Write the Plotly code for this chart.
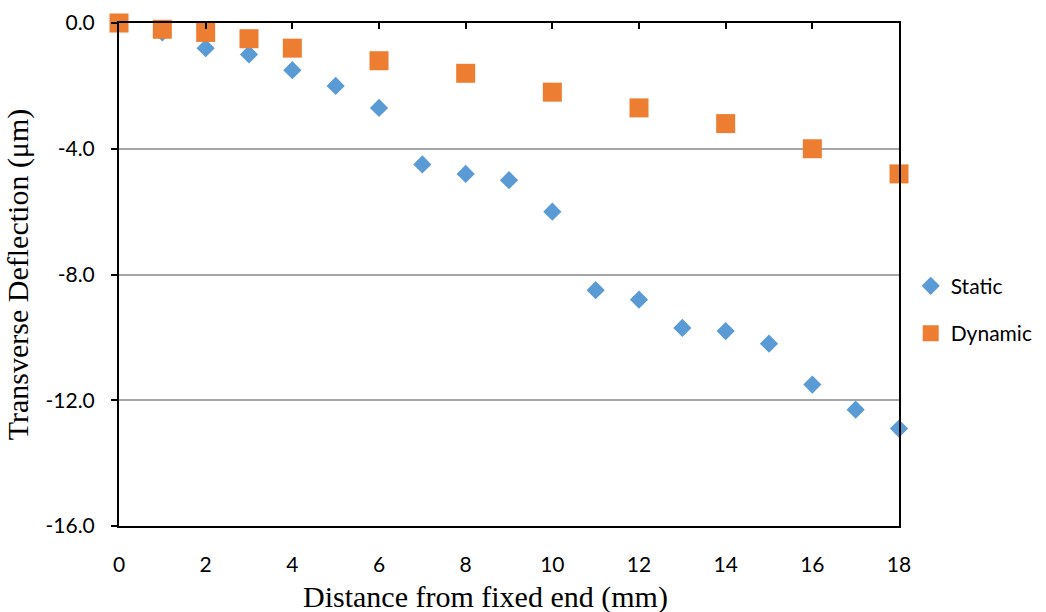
import plotly.graph_objects as go

static_x = [0, 1, 2, 3, 4, 5, 6, 7, 8, 9, 10, 11, 12, 13, 14, 15, 16, 17, 18]
static_y = [0.0, -0.3, -0.8, -1.0, -1.5, -2.0, -2.7, -4.5, -4.8, -5.0, -6.0,
            -8.5, -8.8, -9.7, -9.8, -10.2, -11.5, -12.3, -12.9]
dynamic_x = [0, 1, 2, 3, 4, 6, 8, 10, 12, 14, 16, 18]
dynamic_y = [0.0, -0.2, -0.3, -0.5, -0.8, -1.2, -1.6, -2.2, -2.7, -3.2, -4.0, -4.8]

x_ticks = [0, 2, 4, 6, 8, 10, 12, 14, 16, 18]
y_ticks = [0, -4, -8, -12, -16]
y_ticklabels = ["0.0", "-4.0", "-8.0", "-12.0", "-16.0"]

fig = go.Figure()
fig.add_trace(go.Scatter(
    x=static_x, y=static_y, mode="markers", name="Static",
    legendgroup="a",
    marker=dict(symbol="diamond", size=14, color="#5B9BD5", line=dict(width=0)),
    cliponaxis=False))
fig.add_trace(go.Scatter(
    x=dynamic_x, y=dynamic_y, mode="markers", name="Dynamic",
    legendgroup="b",
    marker=dict(symbol="square", size=19, color="#ED7D31", line=dict(width=0)),
    cliponaxis=False))
fig.add_trace(go.Scatter(x=[], y=[], xaxis="x2", showlegend=False, hoverinfo="skip"))

tick_font = dict(family="Lato, Carlito, sans-serif", size=21, color="#000000")
title_font = dict(family="Liberation Serif, Times New Roman, serif", size=30, color="#000000")

fig.update_layout(
    width=1046, height=612,
    margin=dict(l=119, r=147, t=23, b=86, autoexpand=False),
    paper_bgcolor="white", plot_bgcolor="white",
    showlegend=True,
    legend=dict(x=1.015, y=0.43, xanchor="left", yanchor="middle",
                font=tick_font, traceorder="grouped", tracegroupgap=17,
                bgcolor="rgba(0,0,0,0)"),
    xaxis=dict(
        range=[0, 18], tickvals=x_ticks, ticks="", showgrid=False,
        zeroline=False, showline=True, linecolor="black", linewidth=2,
        mirror=True, tickfont=tick_font, ticklabelstandoff=19, automargin=False,
    ),
    xaxis2=dict(
        range=[0, 18], overlaying="x", side="top", anchor="y",
        tickvals=x_ticks, ticks="inside", ticklen=6, tickwidth=2, tickcolor="black",
        showticklabels=False, showgrid=False, zeroline=False, showline=False,
        automargin=False,
    ),
    yaxis=dict(
        range=[-16, 0], tickvals=y_ticks, ticktext=y_ticklabels,
        ticks="outside", ticklen=6, tickwidth=2, tickcolor="black",
        showgrid=True, gridcolor="#A6A6A6", gridwidth=1.5,
        zeroline=False, showline=True, linecolor="black", linewidth=2,
        mirror=True, tickfont=tick_font, ticklabelstandoff=12, automargin=False,
        title=dict(text="Transverse Deflection (μm)", font=title_font, standoff=8),
    ),
    annotations=[dict(
        text="Distance from fixed end (mm)", font=title_font,
        xref="paper", yref="paper", x=0.4705, y=-0.141,
        xanchor="center", yanchor="middle", showarrow=False,
    )],
)

fig.write_html("out.html")
